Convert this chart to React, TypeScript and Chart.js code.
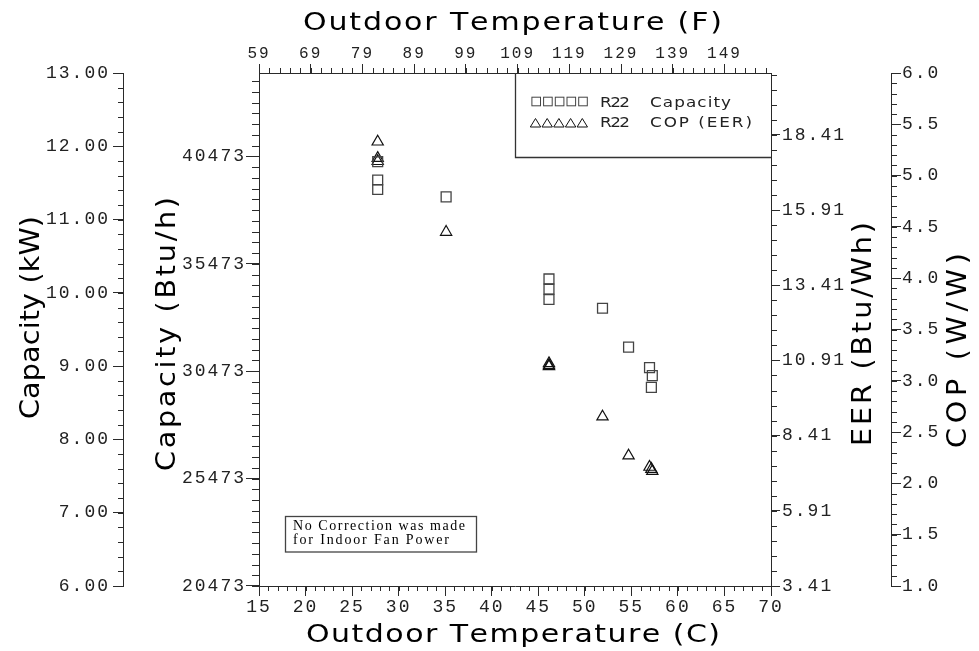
import React, { useEffect, useRef } from 'react';
import { Chart, registerables } from 'chart.js';

Chart.register(...registerables);

// ---------------- data ----------------
const CAP_TEMP_C = [27.75, 27.75, 27.75, 35.1, 46.15, 46.15, 46.15, 51.9, 54.7, 56.95, 57.25, 57.15];
const CAP_KW = [11.79, 11.54, 11.41, 11.31, 10.19, 10.05, 9.91, 9.79, 9.26, 8.98, 8.87, 8.71];
const COP_TEMP_C = [27.75, 27.75, 27.75, 35.1, 46.15, 46.15, 46.15, 51.9, 54.7, 56.95, 57.25, 57.15];
const COP_VAL = [5.33, 5.17, 5.14, 4.45, 3.17, 3.15, 3.14, 2.65, 2.27, 2.16, 2.12, 2.14];

// ---------------- axes ----------------
const C_TICKS = [15, 20, 25, 30, 35, 40, 45, 50, 55, 60, 65, 70];
const C_LABELS = ['15', '20', '25', '30', '35', '40', '45', '50', '55', '60', '65', '70'];
const F_TICKS = [59, 69, 79, 89, 99, 109, 119, 129, 139, 149];
const F_LABELS = ['59', '69', '79', '89', '99', '109', '119', '129', '139', '149'];
const KW_TICKS = [6, 7, 8, 9, 10, 11, 12, 13];
const KW_LABELS = ['6.00', '7.00', '8.00', '9.00', '10.00', '11.00', '12.00', '13.00'];
const BTU_TICKS = [20473, 25473, 30473, 35473, 40473];
const BTU_LABELS = ['20473', '25473', '30473', '35473', '40473'];
const EER_TICKS = [3.412, 5.912, 8.412, 10.912, 13.412, 15.912, 18.412];
const EER_LABELS = ['3.41', '5.91', '8.41', '10.91', '13.41', '15.91', '18.41'];
const COP_TICKS = [1, 1.5, 2, 2.5, 3, 3.5, 4, 4.5, 5, 5.5, 6];
const COP_LABELS = ['1.0', '1.5', '2.0', '2.5', '3.0', '3.5', '4.0', '4.5', '5.0', '5.5', '6.0'];

const C_RANGE = [15, 70];
const F_RANGE = [59, 158];
const KW_RANGE = [6, 13];
const BTU_RANGE = [20472.8, 44357.8];
const EER_RANGE = [3.412, 20.47];
const COP_RANGE = [1, 6];

// minor tick steps
const C_MINOR = 1;
const F_MINOR = 2;
const KW_MINOR = 0.2;
const BTU_MINOR = 500;
const EER_MINOR = 0.5;
const COP_MINOR = 0.1;

const AX = '#2a2a2a';
const TXT = '#222';
const MONO = '"Liberation Mono", "DejaVu Sans Mono", monospace';
const SANS = '"DejaVu Sans", sans-serif';
const SERIF = '"Liberation Serif", "DejaVu Serif", serif';

function drawFit(ctx: CanvasRenderingContext2D, text: string, x: number, y: number, width: number, size: number, family: string, rotate = false, color = '#000', stretch = 1) {
  ctx.save();
  ctx.translate(x, y);
  if (rotate) ctx.rotate(-Math.PI / 2);
  ctx.scale(stretch, 1);
  ctx.font = `${size}px ${family}`;
  (ctx as any).letterSpacing = '0px';
  ctx.fillStyle = color;
  ctx.textAlign = 'left';
  ctx.textBaseline = 'alphabetic';
  const chars = Array.from(text);
  const widths = chars.map((c) => ctx.measureText(c).width * stretch);
  const natural = widths.reduce((a, b) => a + b, 0);
  const gap = chars.length > 1 ? (width - natural) / (chars.length - 1) : 0;
  let cx = 0;
  chars.forEach((c, i) => {
    ctx.fillText(c, cx / stretch, 0);
    cx += widths[i] + gap;
  });
  ctx.restore();
}

function minorTicks(ctx: CanvasRenderingContext2D, scale: any, from: number, to: number, step: number, len: number, side: 'left' | 'right' | 'top' | 'bottom') {
  ctx.beginPath();
  const n = Math.round((to - from) / step);
  for (let i = 0; i <= n; i++) {
    const v = from + i * step;
    if (v > scale.max + 1e-6 || v < scale.min - 1e-6) continue;
    const p = Math.round(scale.getPixelForValue(v)) + 0.5;
    if (side === 'left') {
      ctx.moveTo(scale.right - len, p);
      ctx.lineTo(scale.right, p);
    } else if (side === 'right') {
      ctx.moveTo(scale.left, p);
      ctx.lineTo(scale.left + len, p);
    } else if (side === 'top') {
      ctx.moveTo(p, scale.bottom - len);
      ctx.lineTo(p, scale.bottom);
    } else {
      ctx.moveTo(p, scale.top);
      ctx.lineTo(p, scale.top + len);
    }
  }
  ctx.stroke();
}

const decor = {
  id: 'decor',
  beforeDraw(chart: any) {
    (chart.ctx as any).letterSpacing = '2px';
  },
  afterDraw(chart: any) {
    const ctx: CanvasRenderingContext2D = chart.ctx;
    (ctx as any).letterSpacing = '0px';
    const s = chart.scales;
    ctx.save();
    ctx.strokeStyle = AX;
    ctx.lineWidth = 1;
    minorTicks(ctx, s.xC, C_RANGE[0], C_RANGE[1], C_MINOR, 5, 'bottom');
    minorTicks(ctx, s.xF, F_RANGE[0], F_RANGE[1], F_MINOR, 5, 'top');
    minorTicks(ctx, s.yKW, KW_RANGE[0], KW_RANGE[1], KW_MINOR, 5, 'left');
    minorTicks(ctx, s.yBtu, BTU_TICKS[0], BTU_RANGE[1], BTU_MINOR, 7, 'left');
    minorTicks(ctx, s.yEER, EER_RANGE[0], EER_RANGE[1], EER_MINOR, 6, 'right');
    minorTicks(ctx, s.yCOP, COP_RANGE[0], COP_RANGE[1], COP_MINOR, 6, 'right');
    ctx.restore();

    const area = chart.chartArea;
    // legend box
    ctx.save();
    ctx.strokeStyle = '#333';
    ctx.lineWidth = 1.3;
    ctx.beginPath();
    ctx.moveTo(515.5, area.top);
    ctx.lineTo(515.5, 157.5);
    ctx.lineTo(area.right, 157.5);
    ctx.stroke();
    ctx.lineWidth = 1;
    ctx.strokeStyle = '#444';
    for (let i = 0; i < 5; i++) {
      const cx = 536.2 + i * 11.7;
      ctx.strokeRect(cx - 4.3, 101.5 - 4.3, 8.6, 8.6);
    }
    ctx.strokeStyle = '#111';
    for (let i = 0; i < 5; i++) {
      const cx = 535.5 + i * 11.7;
      ctx.beginPath();
      ctx.moveTo(cx, 118.5);
      ctx.lineTo(cx + 5.2, 127);
      ctx.lineTo(cx - 5.2, 127);
      ctx.closePath();
      ctx.stroke();
    }
    ctx.restore();
    drawFit(ctx, 'R22', 600, 106.5, 30, 14, SANS, false, TXT, 1.2);
    drawFit(ctx, 'Capacity', 650, 106.5, 81, 14, SANS, false, TXT, 1.2);
    drawFit(ctx, 'R22', 600, 127, 30, 14, SANS, false, TXT, 1.2);
    drawFit(ctx, 'COP (EER)', 650, 127, 102, 14, SANS, false, TXT, 1.2);

    // note box
    ctx.save();
    ctx.strokeStyle = '#444';
    ctx.lineWidth = 1.3;
    ctx.strokeRect(285.5, 516.5, 191, 35.5);
    ctx.restore();
    drawFit(ctx, 'No Correction was made', 293, 530, 172, 14, SERIF, false, '#000');
    drawFit(ctx, 'for Indoor Fan Power', 293, 544, 156, 14, SERIF, false, '#000');

    // axis titles
    drawFit(ctx, 'Outdoor Temperature (F)', 303, 30, 419, 25, SANS, false, '#000', 1.2);
    drawFit(ctx, 'Outdoor Temperature (C)', 306, 642, 414, 25, SANS, false, '#000', 1.2);
    drawFit(ctx, 'Capacity (kW)', 39, 419, 203, 26, SANS, true, '#000', 1.1);
    drawFit(ctx, 'Capacity (Btu/h)', 175, 471, 274, 26, SANS, true, '#000', 1.1);
    drawFit(ctx, 'EER (Btu/Wh)', 871, 446, 224, 26, SANS, true, '#000', 1.1);
    drawFit(ctx, 'COP (W/W)', 966, 448, 195, 26, SANS, true, '#000', 1.1);
  },
};

function axis(position: string, range: number[], ticks: number[], labels: string[], size: number, tickLength: number, padding: number, fontSize: number, weight = 0) {
  const horizontal = position === 'top' || position === 'bottom';
  return {
    type: 'linear',
    position,
    weight,
    min: range[0],
    max: range[1],
    afterBuildTicks: (scale: any) => {
      scale.ticks = ticks.map((v) => ({ value: v }));
    },
    afterFit: (scale: any) => {
      if (horizontal) scale.height = size;
      else scale.width = size;
    },
    grid: {
      drawOnChartArea: false,
      drawTicks: true,
      tickLength,
      color: AX,
      tickColor: AX,
      lineWidth: 1,
    },
    border: { display: true, color: AX, width: 1 },
    ticks: {
      autoSkip: false,
      maxRotation: 0,
      minRotation: 0,
      padding,
      color: TXT,
      font: { family: MONO, size: fontSize },
      callback: (_v: any, i: number) => labels[i],
    },
  };
}

export default function App() {
  const ref = useRef<HTMLCanvasElement | null>(null);
  useEffect(() => {
    if (!ref.current) return;
    const chart = new Chart(ref.current, {
      type: 'scatter',
      data: {
        datasets: [
          {
            label: 'R22 Capacity',
            data: CAP_TEMP_C.map((x, i) => ({ x, y: CAP_KW[i] })),
            xAxisID: 'xC',
            yAxisID: 'yKW',
            pointStyle: 'rect',
            pointRadius: 7,
            pointBorderWidth: 1.3,
            borderColor: '#444',
            backgroundColor: 'rgba(0,0,0,0)',
            showLine: false,
          },
          {
            label: 'R22 COP (EER)',
            data: COP_TEMP_C.map((x, i) => ({ x, y: COP_VAL[i] })),
            xAxisID: 'xC',
            yAxisID: 'yCOP',
            pointStyle: 'triangle',
            pointRadius: 6.5,
            pointBorderWidth: 1.2,
            borderColor: '#111',
            backgroundColor: 'rgba(0,0,0,0)',
            showLine: false,
          },
        ],
      },
      options: {
        responsive: false,
        animation: false,
        devicePixelRatio: 1,
        layout: { padding: 0 },
        events: [],
        plugins: { legend: { display: false }, tooltip: { enabled: false }, title: { display: false } },
        scales: {
          xC: axis('bottom', C_RANGE, C_TICKS, C_LABELS, 65, 10, 0, 18),
          xF: axis('top', F_RANGE, F_TICKS, F_LABELS, 73, 9, 1, 16),
          yKW: axis('left', KW_RANGE, KW_TICKS, KW_LABELS, 123, 10, 3, 18, 1),
          yBtu: axis('left', BTU_RANGE, BTU_TICKS, BTU_LABELS, 136, 13, 0, 18, 0),
          yEER: axis('right', EER_RANGE, EER_TICKS, EER_LABELS, 120, 9, 2, 18, 0),
          yCOP: axis('right', COP_RANGE, COP_TICKS, COP_LABELS, 88, 10, 1, 18, 1),
        } as any,
      },
      plugins: [decor as any],
    } as any);
    return () => chart.destroy();
  }, []);
  return (
    <div style={{ position: 'fixed', left: 0, top: 0, width: 979, height: 651, background: '#fff' }}>
      <canvas ref={ref} width={979} height={651} style={{ display: 'block' }} />
    </div>
  );
}
